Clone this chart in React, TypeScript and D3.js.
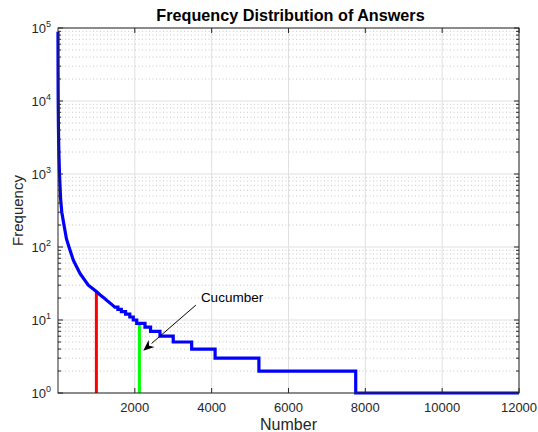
import React from 'react';
import * as d3 from 'd3';

// head of the rank/frequency curve (smooth part)
const headRank = [1, 2, 3, 5, 8, 12, 18, 27, 40, 70, 100, 157, 220, 287, 400, 573, 790, 1000, 1100, 1200, 1300, 1420];
const headFreq = [89000, 39000, 24000, 13000, 7500, 4600, 2800, 1700, 1000, 450, 300, 200, 130, 100, 66, 43.5, 30, 24.5, 22, 20, 18, 16];

// tail: integer frequency levels, each starting at a rank
const stepRank = [1480, 1560, 1650, 1760, 1870, 1960, 2050, 2265, 2410, 2655, 3000, 3480, 4090, 5230, 7750];
const stepFreq = [15, 14, 13, 12, 11, 10, 9, 8, 7, 6, 5, 4, 3, 2, 1];
const lastRank = 12000;

const xTicks = [2000, 4000, 6000, 8000, 10000, 12000];
const yDecades = [0, 1, 2, 3, 4, 5];

const markerRank = [1000, 2120];
const markerFreq = [24.5, 9];
const markerColor = ['#ff0000', '#00ff00'];

const noteLabel = 'Cucumber';
const noteText = [3720, 17.6];
const noteFrom = [3590, 16];
const noteTo = [2220, 3.8];

const W = 538, H = 432;
const m = { left: 58, right: 19, top: 28, bottom: 39 };
const font = '"Liberation Sans", Arial, Helvetica, sans-serif';
const ink = '#262626';

export default function App() {
  const x = d3.scaleLinear().domain([1, lastRank]).range([m.left, W - m.right]);
  const y = d3.scaleLog().domain([1, 1e5]).range([H - m.bottom, m.top]);

  const pts: [number, number][] = headRank.map((r, i) => [r, headFreq[i]]);
  stepRank.forEach((r, i) => {
    const next = i + 1 < stepRank.length ? stepRank[i + 1] : lastRank;
    pts.push([r, stepFreq[i]]);
    pts.push([next, stepFreq[i]]);
  });
  const line = d3.line<[number, number]>().x(d => x(d[0])).y(d => y(d[1]));

  const minors: number[] = [];
  yDecades.slice(0, -1).forEach(e => {
    for (let k = 2; k <= 9; k++) minors.push(k * Math.pow(10, e));
  });

  const x0 = m.left, x1 = W - m.right, y0 = H - m.bottom, y1 = m.top;

  // arrow head
  const tx = x(noteTo[0]), ty = y(noteTo[1]);
  const fx = x(noteFrom[0]), fy = y(noteFrom[1]);
  const ang = Math.atan2(ty - fy, tx - fx);
  const hl = 11, hw = 4.5;
  const bx = tx - hl * Math.cos(ang), by = ty - hl * Math.sin(ang);
  const nx = -Math.sin(ang), ny = Math.cos(ang);
  const head = `M${tx},${ty}L${bx + nx * hw},${by + ny * hw}L${tx - 0.7 * hl * Math.cos(ang)},${ty - 0.7 * hl * Math.sin(ang)}L${bx - nx * hw},${by - ny * hw}Z`;

  return (
    <svg width={W} height={H} style={{ position: 'absolute', left: 0, top: 0, background: '#fff' }} fontFamily={font}>
      <rect x={0} y={0} width={W} height={H} fill="#fff" />
      {/* minor grid */}
      {minors.map(v => (
        <line key={'mg' + v} x1={x0} x2={x1} y1={y(v)} y2={y(v)} stroke="#c8c8c8" strokeWidth={1} strokeDasharray="1,2.5" />
      ))}
      {/* major grid */}
      {yDecades.map(e => (
        <line key={'yg' + e} x1={x0} x2={x1} y1={y(Math.pow(10, e))} y2={y(Math.pow(10, e))} stroke="#e0e0e0" strokeWidth={1} />
      ))}
      {xTicks.map(t => (
        <line key={'xg' + t} x1={x(t)} x2={x(t)} y1={y0} y2={y1} stroke="#e0e0e0" strokeWidth={1} />
      ))}

      {/* markers */}
      {markerRank.map((r, i) => (
        <line key={'mk' + i} x1={x(r)} x2={x(r)} y1={y(1)} y2={y(markerFreq[i])} stroke={markerColor[i]} strokeWidth={3} />
      ))}

      <path d={line(pts) || ''} fill="none" stroke="#0000ff" strokeWidth={3.2} strokeLinejoin="miter" />

      {/* axes box */}
      <rect x={x0} y={y1} width={x1 - x0} height={y0 - y1} fill="none" stroke={ink} strokeWidth={1} />
      {xTicks.map(t => (
        <g key={'xt' + t}>
          <line x1={x(t)} x2={x(t)} y1={y0} y2={y0 - 5} stroke={ink} />
          <line x1={x(t)} x2={x(t)} y1={y1} y2={y1 + 5} stroke={ink} />
          <text x={x(t)} y={y0 + 19} textAnchor="middle" fontSize={13} fill={ink}>{t}</text>
        </g>
      ))}
      {yDecades.map(e => {
        const yy = y(Math.pow(10, e));
        return (
          <g key={'yt' + e}>
            <line x1={x0} x2={x0 + 5} y1={yy} y2={yy} stroke={ink} />
            <line x1={x1} x2={x1 - 5} y1={yy} y2={yy} stroke={ink} />
            <text x={51} y={yy + 4.5} textAnchor="end" fontSize={13} fill={ink}>
              10<tspan fontSize={9} dy={-6}>{e}</tspan>
            </text>
          </g>
        );
      })}
      {minors.map(v => (
        <g key={'mt' + v}>
          <line x1={x0} x2={x0 + 3} y1={y(v)} y2={y(v)} stroke={ink} />
          <line x1={x1} x2={x1 - 3} y1={y(v)} y2={y(v)} stroke={ink} />
        </g>
      ))}

      {/* annotation */}
      <line x1={fx} y1={fy} x2={bx} y2={by} stroke="#000" strokeWidth={1} />
      <path d={head} fill="#000" />
      <text x={x(noteText[0])} y={y(noteText[1])} fontSize={13.5} fill="#000">{noteLabel}</text>

      <text x={(x0 + x1) / 2 + 2} y={21} textAnchor="middle" fontSize={16.2} fontWeight="bold" fill="#000">Frequency Distribution of Answers</text>
      <text x={(x0 + x1) / 2} y={430} textAnchor="middle" fontSize={16} fill={ink}>Number</text>
      <text transform={`translate(23,${(y0 + y1) / 2}) rotate(-90)`} textAnchor="middle" fontSize={15} fill={ink}>Frequency</text>
    </svg>
  );
}
